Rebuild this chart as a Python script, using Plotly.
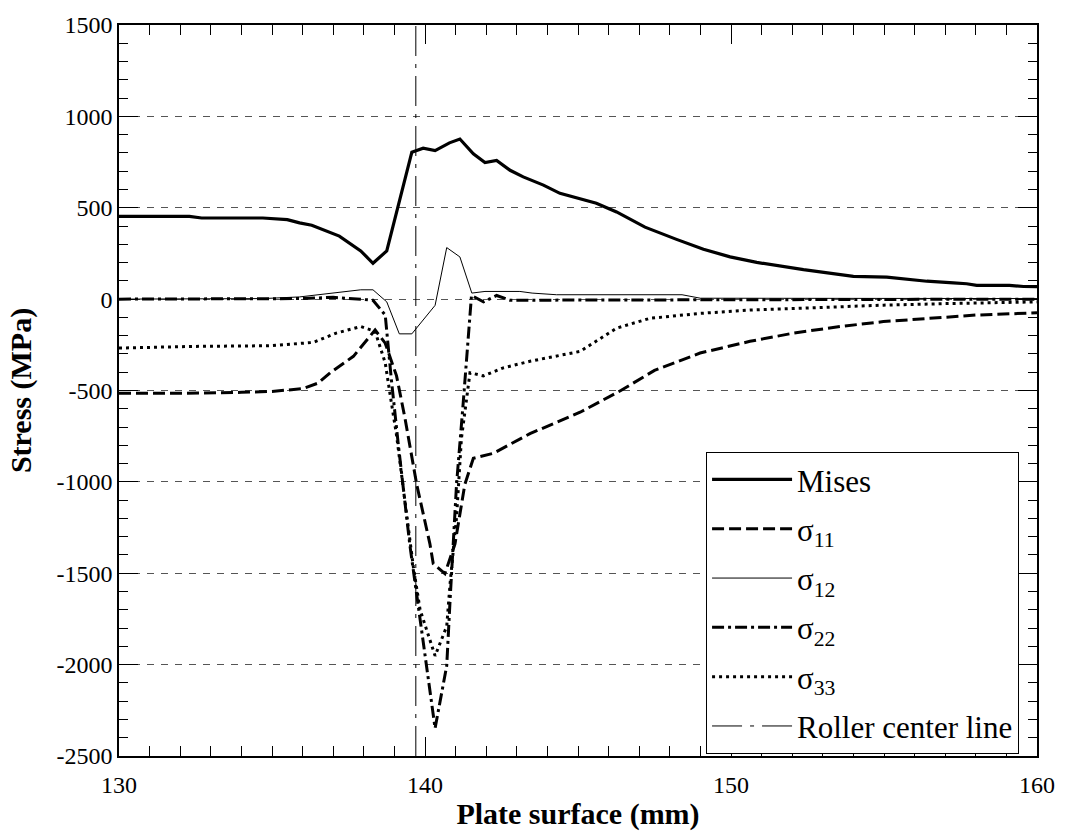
import plotly.graph_objects as go

# ---------------- data ----------------
mises_x = [130, 132.3, 132.7, 134.7, 135.5, 135.9, 136.3, 137.2, 137.9, 138.3, 138.75, 139.57, 139.94,
           140.33, 140.8, 141.14, 141.58, 141.96, 142.34, 142.78, 143.21, 143.87, 144.41, 145.07, 145.6,
           146.26, 147.19, 148.22, 149.1, 149.97, 150.84, 152.37, 154.0, 155.09, 155.96, 156.4, 157.27,
           157.7, 158.03, 159.1, 159.56, 160]
mises_y = [453, 453, 444, 444, 435, 417, 404, 345, 264, 196, 264, 804, 826,
           813, 855, 876, 795, 747, 759, 705, 669, 624, 579, 547, 525,
           477, 394, 327, 273, 231, 201, 161, 125, 120, 105, 98, 89,
           84, 75, 75, 69, 68]

s11_x = [130, 132, 134, 135, 136, 136.5, 136.9, 137.66, 138.37, 138.7, 139.07, 139.35, 139.73, 140.16,
         140.27, 140.65, 140.98, 141.3, 141.58, 142.23, 143.43, 145.07, 146.4, 147.5, 148.99, 150.62,
         152.04, 153.56, 154.98, 156.6, 158.03, 160]
s11_y = [-515, -515, -510, -505, -490, -460, -403, -313, -169, -241, -420, -655, -1015, -1339,
         -1448, -1502, -1339, -1015, -871, -844, -736, -619, -500, -390, -295, -231,
         -186, -150, -123, -105, -87, -75]

s12_x = [130, 134.7, 135.9, 137.9, 138.3, 138.75, 139.16, 139.57, 140.33, 140.71, 141.14, 141.53,
         141.96, 143.1, 143.5, 144.3, 148.4, 149.0, 160]
s12_y = [0, 3, 12, 51, 51, -15, -190, -190, -34, 282, 231, 33,
         42, 42, 33, 24, 24, 5, 3]

s22_x = [130, 136, 137, 137.6, 138.3, 138.7, 138.9, 139.13, 139.35, 139.5, 140.33, 140.71, 140.82,
         140.93, 141.03, 141.25, 141.41, 141.52, 141.91, 142.34, 142.78, 160]
s22_y = [0, 3, 10, 2, -6, -87, -439, -799, -1105, -1339, -2348, -2006, -1646,
         -1285, -1015, -565, -204, 20, -15, 20, -6, 0]

s33_x = [130, 132.3, 134.9, 136.35, 137.1, 137.9, 138.37, 138.7, 138.9, 139.07, 139.62, 139.84, 140.33,
         140.71, 140.82, 141.03, 141.19, 141.47, 141.91, 142.56, 143.43, 144.52, 145.07, 145.5, 146.26,
         147.35, 148.99, 150.62, 152.8, 154.98, 157.16, 160]
s33_y = [-268, -259, -255, -237, -186, -150, -177, -349, -565, -745, -1466, -1700, -1952,
         -1790, -1555, -1196, -763, -403, -420, -376, -340, -304, -286, -240, -159,
         -105, -78, -60, -46, -33, -24, -15]

roller_x = [139.7, 139.7]
roller_y = [-2500, 1500]

x_ticks = [130, 140, 150, 160]
x_ticktext = ["130", "140", "150", "160"]
y_ticks = [-2500, -2000, -1500, -1000, -500, 0, 500, 1000, 1500]
y_ticktext = ["-2500", "-2000", "-1500", "-1000", "-500", "0", "500", "1000", "1500"]

# ---------------- figure ----------------
serif = "Liberation Serif"

fig = go.Figure()
fig.add_trace(go.Scatter(x=mises_x, y=mises_y, mode="lines", name="Mises", legendgroup="a",
                         line=dict(color="black", width=3.2)))
fig.add_trace(go.Scatter(x=s11_x, y=s11_y, mode="lines", name="σ<sub>11</sub>", legendgroup="b",
                         line=dict(color="black", width=3, dash="12px,5px")))
fig.add_trace(go.Scatter(x=s12_x, y=s12_y, mode="lines", name="σ<sub>12</sub>", legendgroup="c",
                         line=dict(color="black", width=1)))
fig.add_trace(go.Scatter(x=s22_x, y=s22_y, mode="lines", name="σ<sub>22</sub>", legendgroup="d",
                         line=dict(color="black", width=3, dash="12px,4px,3px,4px")))
fig.add_trace(go.Scatter(x=s33_x, y=s33_y, mode="lines", name="σ<sub>33</sub>", legendgroup="e",
                         line=dict(color="black", width=3, dash="3px,4px")))
fig.add_trace(go.Scatter(x=roller_x, y=roller_y, mode="lines", name="Roller center line",
                         legendgroup="f",
                         line=dict(color="black", width=1, dash="30px,8px,4px,8px")))

fig.update_layout(
    width=1067, height=837,
    margin=dict(l=119, r=30, t=18, b=79),
    paper_bgcolor="white", plot_bgcolor="white",
    font=dict(family=serif, size=24, color="black"),
    showlegend=True,
    legend=dict(x=0.6395, y=0.003, xanchor="left", yanchor="bottom",
                bordercolor="black", borderwidth=1, bgcolor="white",
                font=dict(family=serif, size=31, color="black"),
                itemwidth=80, tracegroupgap=6),
)

fig.update_xaxes(
    range=[130, 160], tickvals=x_ticks, ticktext=x_ticktext,
    ticks="inside", ticklen=19, tickwidth=1, tickcolor="black",
    minor=dict(dtick=1, ticks="inside", ticklen=10, tickcolor="black", showgrid=False),
    showline=True, linecolor="black", linewidth=1.5, mirror="allticks",
    showgrid=False, zeroline=False,
    tickfont=dict(family=serif, size=24),
    ticklabelstandoff=6,
    title=dict(text="<b>Plate surface (mm)</b>", font=dict(family=serif, size=30), standoff=6),
)
fig.update_yaxes(
    range=[-2500, 1500], tickvals=y_ticks, ticktext=y_ticktext,
    ticks="inside", ticklen=19, tickwidth=1, tickcolor="black",
    minor=dict(dtick=100, ticks="inside", ticklen=9, tickcolor="black", showgrid=False),
    showline=True, linecolor="black", linewidth=1.5, mirror="allticks",
    showgrid=True, gridcolor="#555555", gridwidth=1, griddash="7px,7px",
    zeroline=False,
    tickfont=dict(family=serif, size=24),
    title=dict(text="<b>Stress (MPa)</b>", font=dict(family=serif, size=30), standoff=16),
)

fig.write_html("out.html", config={"displayModeBar": False},
               post_script="document.body.style.margin='0px';")
